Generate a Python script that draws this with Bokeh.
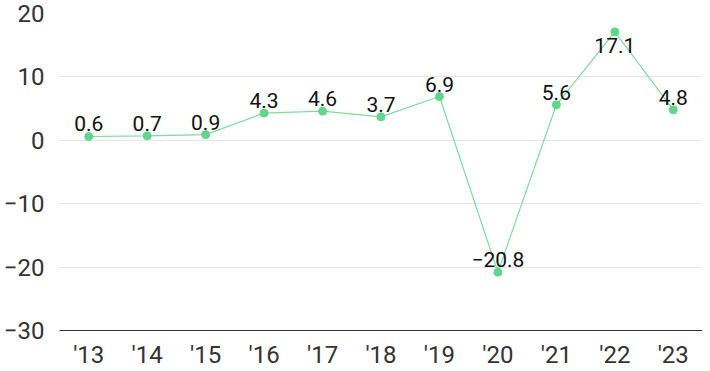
from bokeh.plotting import figure
from bokeh.models import ColumnDataSource, FixedTicker, Range1d, FactorRange
from bokeh.core.properties import value
from bokeh.embed import file_html
from bokeh.resources import INLINE

years = ["'13", "'14", "'15", "'16", "'17", "'18", "'19", "'20", "'21", "'22", "'23"]
values = [0.6, 0.7, 0.9, 4.3, 4.6, 3.7, 6.9, -20.8, 5.6, 17.1, 4.8]
labels = ["0.6", "0.7", "0.9", "4.3", "4.6", "3.7", "6.9", "\u221220.8", "5.6", "17.1", "4.8"]
y_ticks = [-30, -20, -10, 0, 10, 20]

FONT = "Roboto"

p = figure(width=702, height=371, x_range=FactorRange(*years), y_range=Range1d(-30, 20),
           output_backend="svg", toolbar_location=None,
           min_border_left=50, min_border_right=0, min_border_top=13, min_border_bottom=30)
p.outline_line_color = None
p.background_fill_color = "white"

top_val = max(values)
offsets = [-5 if v != top_val else 6 for v in values]
baselines = ["bottom" if v != top_val else "top" for v in values]
src = ColumnDataSource(dict(x=years, y=values, label=labels, yoff=offsets, base=baselines))

p.line("x", "y", source=src, line_color="#7ddc9c", line_width=1.2)
p.scatter("x", "y", source=src, size=8, fill_color="#5fd68c", line_color="#5fd68c")

p.text("x", "y", text="label", source=src, y_offset="yoff", text_baseline="base",
       text_align="center", text_font=value(FONT), text_font_size="21px", text_color="#111111")

p.yaxis.ticker = FixedTicker(ticks=y_ticks)
p.yaxis.major_label_overrides = {t: (str(t).replace("-", "\u2212")) for t in y_ticks}
p.yaxis.axis_line_color = None
p.yaxis.major_tick_line_color = None
p.yaxis.minor_tick_line_color = None
p.yaxis.major_tick_out = 0
p.yaxis.major_tick_in = 0
p.yaxis.major_label_standoff = 15
p.yaxis.major_label_text_font = FONT
p.yaxis.major_label_text_font_size = "24px"
p.yaxis.major_label_text_color = "#333333"

p.xaxis.axis_line_color = "#333333"
p.xaxis.axis_line_width = 1
p.xaxis.major_tick_line_color = None
p.xaxis.minor_tick_line_color = None
p.xaxis.major_tick_out = 0
p.xaxis.major_tick_in = 0
p.xaxis.major_label_standoff = 10
p.xaxis.major_label_text_font = FONT
p.xaxis.major_label_text_font_size = "24px"
p.xaxis.major_label_text_color = "#333333"

p.xgrid.grid_line_color = None
p.ygrid.grid_line_color = "#e6e6e6"
p.ygrid.ticker = FixedTicker(ticks=[-20, -10, 0, 10, 20])

open("out.html", "w").write(file_html(p, INLINE))
